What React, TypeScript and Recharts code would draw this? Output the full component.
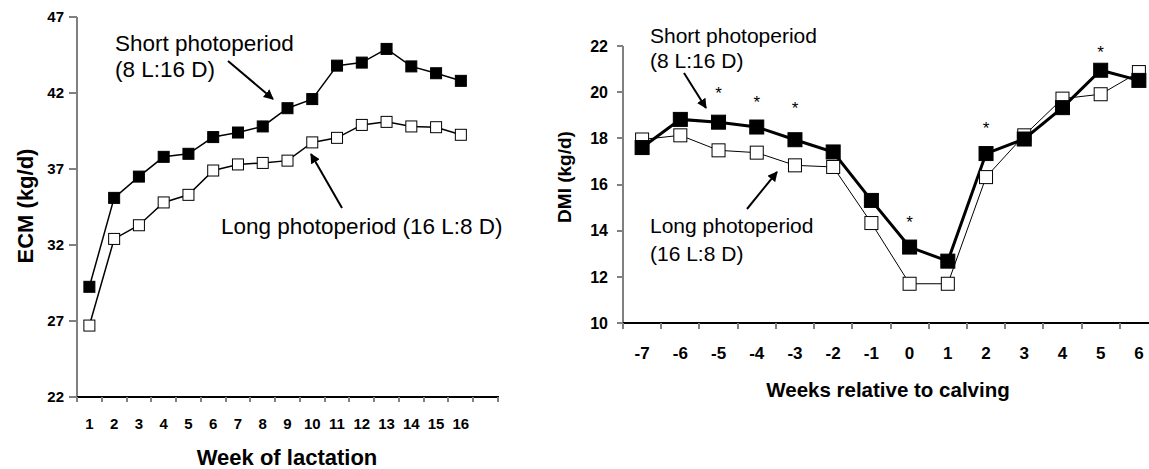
import { LineChart, Line, XAxis, YAxis } from 'recharts'

// ECM by week of lactation
const weeks = [1, 2, 3, 4, 5, 6, 7, 8, 9, 10, 11, 12, 13, 14, 15, 16]
const ecmShort = [29.25, 35.1, 36.5, 37.8, 38.0, 39.1, 39.4, 39.8, 41.0, 41.6, 43.8, 44.0, 44.9, 43.75, 43.3, 42.8]
const ecmLong = [26.7, 32.4, 33.3, 34.8, 35.3, 36.9, 37.3, 37.4, 37.55, 38.75, 39.05, 39.9, 40.1, 39.8, 39.75, 39.25]
const ecmTicks = [22, 27, 32, 37, 42, 47]

// DMI by weeks relative to calving
const relWeeks = [-7, -6, -5, -4, -3, -2, -1, 0, 1, 2, 3, 4, 5, 6]
const dmiShort = [17.6, 18.82, 18.7, 18.49, 17.94, 17.41, 15.31, 13.29, 12.68, 17.34, 17.97, 19.33, 20.95, 20.51]
const dmiLong = [17.95, 18.13, 17.48, 17.38, 16.83, 16.76, 14.33, 11.7, 11.7, 16.32, 18.13, 19.72, 19.91, 20.87]
const dmiSig = [null, null, 20.11, 19.73, 19.47, null, null, 14.55, null, 18.6, null, null, 21.9, null]
const dmiTicks = [10, 12, 14, 16, 18, 20, 22]

const FONT = 'Liberation Sans, Arial, sans-serif'

const ecmData = weeks.map((w, i) => ({ week: w, short: ecmShort[i], long: ecmLong[i] }))
const dmiData = relWeeks.map((w, i) => ({ week: w, short: dmiShort[i], long: dmiLong[i], sig: dmiSig[i] }))

// tick marks sit on the category edges, labels in the middle of each band
const leftEdges = Array.from({ length: weeks.length + 2 }, (_, i) => i + 0.5)
const rightEdges = Array.from({ length: relWeeks.length + 1 }, (_, i) => relWeeks[0] - 0.5 + i)

// plot boxes (set by the chart margins below)
const L = { x: 77, y: 17, w: 421, h: 380 }
const R = { x: 623, y: 46, w: 535, h: 277 }

function EdgeTick(props: any) {
    const { x, y, payload, plotW, span, last, size } = props
    const v = payload.value + 0.5
    if (v > last) return <g />
    const half = plotW / span / 2
    return (
        <text x={x + half} y={y} dy="0.71em" textAnchor="middle" fontSize={size} fontWeight="bold" fontFamily={FONT} fill="#000" stroke="none">
            {v}
        </text>
    )
}

function ValueTick(props: any) {
    const { x, y, payload, size } = props
    return (
        <text x={x} y={y} dy="0.355em" textAnchor="end" fontSize={size} fontWeight="bold" fontFamily={FONT} fill="#000" stroke="none">
            {payload.value}
        </text>
    )
}

const squareDot = (size: number, fill: string) => (props: any) => {
    const { cx, cy, index } = props
    if (cx == null || cy == null) return <g key={index} />
    return <rect key={index} x={cx - size / 2} y={cy - size / 2} width={size} height={size} fill={fill} stroke="#000" strokeWidth={1} />
}

const starDot = (props: any) => {
    const { cx, cy, index, value } = props
    if (cx == null || cy == null || value == null) return <g key={index} />
    return (
        <text key={index} x={cx} y={cy + 0.58 * 17} textAnchor="middle" fontSize={17} fontFamily={FONT} fill="#000">
            *
        </text>
    )
}

// axis frame + tick marks as plain html boxes
function AxisFrame({ box, xCount, yTicks, yMin, yMax, xLen, yLen }: any) {
    const step = box.w / xCount
    const yPos = (v: number) => box.y + ((yMax - v) / (yMax - yMin)) * box.h
    const bottom = box.y + box.h
    const abs = { position: 'absolute' as const }
    return (
        <>
            <div style={{ ...abs, left: box.x - 1, top: box.y, width: 2, height: box.h, background: '#808080' }} />
            <div style={{ ...abs, left: box.x - 1, top: bottom - 1, width: box.w + 2, height: 2, background: '#000' }} />
            {Array.from({ length: xCount + 1 }, (_, k) => (
                <div key={'x' + k} style={{ ...abs, left: Math.round(box.x + k * step) - 1, top: bottom, width: 1.5, height: xLen, background: '#808080' }} />
            ))}
            {yTicks.map((v: number) => (
                <div key={'y' + v} style={{ ...abs, left: box.x - yLen, top: Math.round(yPos(v)) - 1, width: yLen, height: 1.5, background: '#808080' }} />
            ))}
        </>
    )
}

export default function App() {
    return (
        <div style={{ position: 'fixed', left: 0, top: 0, width: 1149, height: 469, overflow: 'hidden', background: '#fff' }}>
            <div style={{ position: 'absolute', left: 0, top: 0 }}>
                <LineChart width={520} height={469} data={ecmData} margin={{ top: 17, right: 22, bottom: 32, left: 0 }}>
                    <XAxis
                        dataKey="week"
                        type="number"
                        domain={[0.5, 17.5]}
                        ticks={leftEdges}
                        interval={0}
                        height={40}
                        axisLine={false}
                        tickLine={false}
                        tickSize={0}
                        tickMargin={21}
                        tick={<EdgeTick plotW={L.w} span={17} last={16} size={15} />}
                    />
                    <YAxis
                        type="number"
                        domain={[22, 47]}
                        ticks={ecmTicks}
                        interval={0}
                        width={77}
                        axisLine={false}
                        tickLine={false}
                        tickSize={0}
                        tickMargin={13}
                        tick={<ValueTick size={15} />}
                    />
                    <Line dataKey="long" stroke="#000" strokeWidth={1.5} dot={squareDot(11, '#fff')} isAnimationActive={false} />
                    <Line dataKey="short" stroke="#000" strokeWidth={1.5} dot={squareDot(11, '#000')} isAnimationActive={false} />
                </LineChart>
            </div>

            <div style={{ position: 'absolute', left: 540, top: 0 }}>
                <LineChart width={623} height={469} data={dmiData} margin={{ top: 46, right: 5, bottom: 106, left: 0 }}>
                    <XAxis
                        dataKey="week"
                        type="number"
                        domain={[-7.5, 6.5]}
                        ticks={rightEdges}
                        interval={0}
                        height={40}
                        axisLine={false}
                        tickLine={false}
                        tickSize={0}
                        tickMargin={24}
                        tick={<EdgeTick plotW={R.w} span={14} last={6} size={17} />}
                    />
                    <YAxis
                        type="number"
                        domain={[10, 22]}
                        ticks={dmiTicks}
                        interval={0}
                        width={83}
                        axisLine={false}
                        tickLine={false}
                        tickSize={0}
                        tickMargin={15}
                        tick={<ValueTick size={16} />}
                    />
                    <Line dataKey="long" stroke="#000" strokeWidth={1} dot={squareDot(13, '#fff')} isAnimationActive={false} />
                    <Line dataKey="short" stroke="#000" strokeWidth={3} dot={squareDot(14, '#000')} isAnimationActive={false} />
                    <Line dataKey="sig" stroke="none" dot={starDot} isAnimationActive={false} />
                </LineChart>
            </div>

            <AxisFrame box={L} xCount={17} yTicks={ecmTicks} yMin={22} yMax={47} xLen={5} yLen={8} />
            <AxisFrame box={R} xCount={14} yTicks={dmiTicks} yMin={10} yMax={22} xLen={6} yLen={6} />

            <svg width={1149} height={469} style={{ position: 'absolute', left: 0, top: 0, pointerEvents: 'none' }} fontFamily={FONT}>
                <defs>
                    <marker id="head" viewBox="0 0 10 10" refX="9" refY="5" markerWidth="5" markerHeight="5" orient="auto">
                        <path d="M0,0 L10,5 L0,10 z" fill="#000" />
                    </marker>
                </defs>

                {/* left panel */}
                <text x={115} y={51} fontSize={22.5} fill="#000">Short photoperiod</text>
                <text x={115} y={77} fontSize={22.5} fill="#000">(8 L:16 D)</text>
                <text x={221} y={234} fontSize={22.5} fill="#000">Long photoperiod (16 L:8 D)</text>
                <line x1={228} y1={61} x2={273} y2={99} stroke="#000" strokeWidth={2} markerEnd="url(#head)" />
                <line x1={342} y1={208} x2={311} y2={154} stroke="#000" strokeWidth={2} markerEnd="url(#head)" />
                <text x={287} y={465} fontSize={22} fontWeight="bold" textAnchor="middle" fill="#000">Week of lactation</text>
                <text transform="translate(33,206) rotate(-90)" fontSize={22} fontWeight="bold" textAnchor="middle" fill="#000">ECM (kg/d)</text>

                {/* right panel */}
                <text x={650} y={43} fontSize={21} fill="#000">Short photoperiod</text>
                <text x={650} y={68} fontSize={21} fill="#000">(8 L:16 D)</text>
                <text x={650} y={233} fontSize={21} fill="#000">Long photoperiod</text>
                <text x={650} y={261} fontSize={21} fill="#000">(16 L:8 D)</text>
                <line x1={684} y1={73} x2={706} y2={108} stroke="#000" strokeWidth={2} markerEnd="url(#head)" />
                <line x1={747} y1={209} x2={777} y2={172} stroke="#000" strokeWidth={2} markerEnd="url(#head)" />
                <text x={888} y={397} fontSize={20.5} fontWeight="bold" textAnchor="middle" fill="#000">Weeks relative to calving</text>
                <text transform="translate(571,177) rotate(-90)" fontSize={19} fontWeight="bold" textAnchor="middle" fill="#000">DMI (kg/d)</text>
            </svg>
        </div>
    )
}
